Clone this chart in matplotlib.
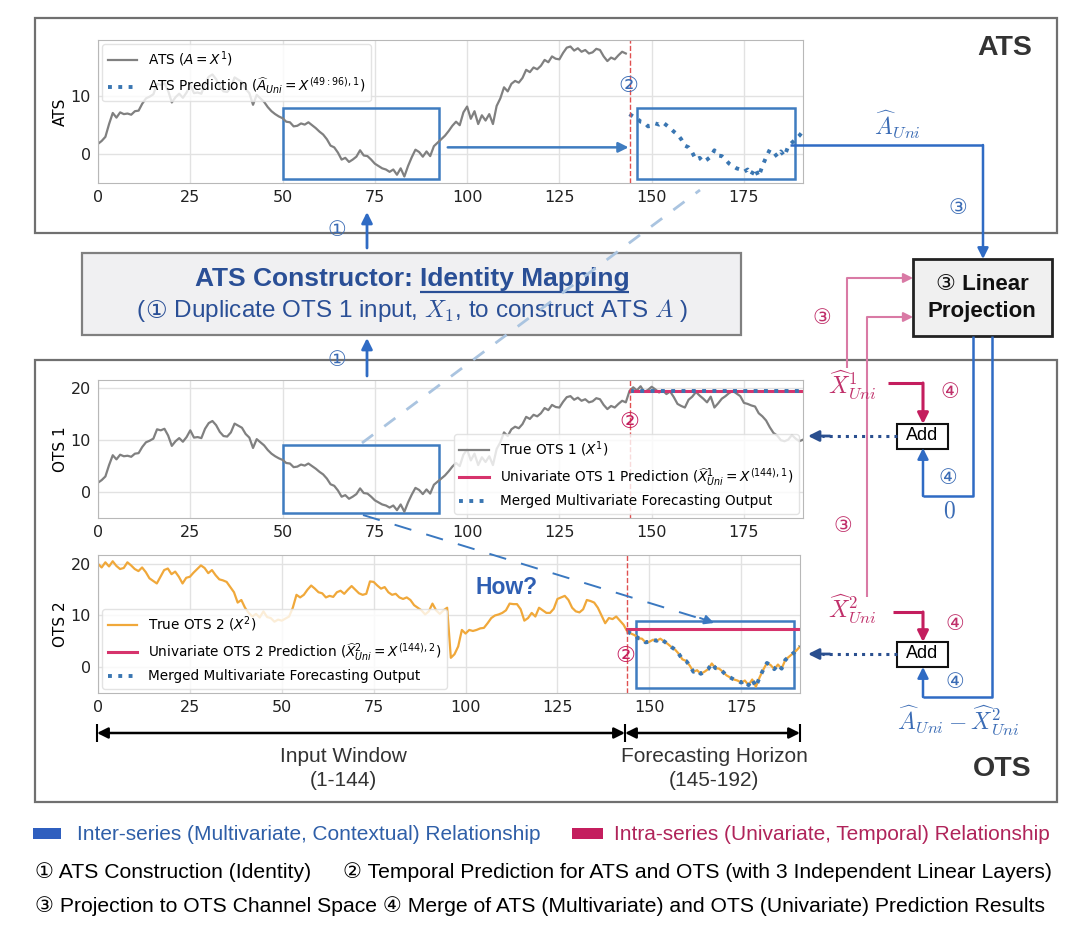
import numpy as np
import matplotlib.pyplot as plt
from matplotlib.patches import Rectangle

plt.rcParams['font.family'] = ['DejaVu Sans']

# ---------------- data ----------------
# OTS 1 (also the source of the ATS), 192 steps
ots1 = [1.8, 2.3, 3.0, 5.2, 7.1, 6.3, 7.2, 6.9, 7.0, 6.8,
        7.4, 7.5, 8.7, 9.6, 9.9, 10.3, 12.1, 11.9, 12.2, 10.9,
        8.9, 9.8, 10.4, 9.7, 10.6, 11.9, 10.5, 10.6, 10.4, 12.2,
        13.3, 13.7, 12.9, 11.6, 10.8, 10.7, 11.5, 13.2, 12.8, 12.4,
        11.2, 10.5, 8.5, 10.2, 9.6, 9.0, 8.1, 7.4, 6.9, 6.5,
        6.2, 5.6, 5.5, 4.8, 4.9, 5.3, 5.1, 5.5, 5.0, 4.5,
        3.9, 3.4, 2.6, 1.5, 1.2, 0.3, -0.9, -0.6, -1.3, -0.9,
        -0.4, 0.7, -0.2, -0.3, -0.9, -1.6, -2.0, -2.4, -2.6, -3.0,
        -2.6, -3.5, -2.4, -3.8, -2.0, -0.5, 0.8, 0.4, -0.4, 0.5,
        -0.3, 1.4, 2.0, 2.6, 3.2, 4.0, 4.9, 5.6, 5.0, 7.2,
        8.2, 6.1, 7.4, 5.2, 6.7, 5.8, 6.9, 5.2, 8.3, 9.6,
        11.5, 10.8, 12.1, 12.6, 12.3, 13.1, 14.5, 14.1, 14.9, 14.6,
        15.2, 16.2, 15.8, 16.8, 16.4, 16.3, 17.4, 18.3, 18.5, 17.8,
        18.2, 17.6, 17.9, 17.3, 17.5, 18.1, 17.9, 16.8, 16.0, 16.6,
        16.3, 17.0, 17.6, 17.3, 19.5, 20.2, 19.6, 20.4, 19.3, 19.7,
        20.3, 19.8, 19.2, 19.6, 18.9, 19.4, 18.3, 17.0, 16.6, 16.3,
        17.8, 18.4, 19.3, 18.6, 18.0, 17.3, 18.4, 16.3, 17.1, 18.0,
        18.5, 19.1, 19.5, 19.0, 18.5, 17.2, 17.0, 16.7, 16.5, 15.2,
        14.6, 13.8, 12.5, 11.4, 10.9, 10.0, 9.8, 10.1, 11.0, 10.3,
        9.8, 10.1]

# OTS 2 input window (1-144)
ots2_in = [20.0, 19.3, 20.3, 19.5, 20.5, 19.6, 19.0, 19.2, 20.3, 19.7,
           19.0, 18.6, 19.3, 18.4, 17.2, 16.7, 16.2, 17.5, 18.8, 19.1,
           18.0, 18.5, 17.5, 16.2, 17.3, 17.5, 18.3, 19.0, 19.7, 19.2,
           18.2, 18.8, 17.8, 17.0, 16.8, 16.5, 15.5, 14.5, 12.5, 13.0,
           11.5, 10.5, 9.8, 10.3, 9.6, 10.8, 9.7, 9.5, 8.8, 9.2,
           9.0, 9.4, 9.8, 11.5, 14.0, 13.5, 14.0, 15.0, 15.8, 15.2,
           14.5, 14.3, 13.5, 13.8, 13.6, 14.5, 14.8, 14.2, 15.0, 15.7,
           15.0, 14.3, 14.0, 14.2, 16.6, 16.5, 15.8, 15.2, 15.5, 14.5,
           14.0, 14.2, 13.5, 13.2, 13.5, 13.0, 12.0, 11.5, 11.0, 10.2,
           10.8, 12.3, 11.0, 10.3, 11.0, 11.5, 1.8, 2.5, 4.0, 7.2,
           6.5, 7.2, 7.0, 7.2, 7.5, 7.6, 8.5, 9.5, 10.0, 10.2,
           10.5, 11.0, 12.3, 12.2, 12.2, 11.2, 9.0, 9.5, 10.5, 9.8,
           11.5, 11.0, 10.5, 10.5, 11.3, 13.2, 13.5, 13.8, 13.0, 11.5,
           10.8, 10.6, 11.2, 13.0, 12.8, 12.5, 11.5, 10.0, 8.5, 9.5,
           9.3, 9.8, 9.0, 8.2]

uni_ots1 = 19.4        # X^(144),1
uni_ots2 = 7.3         # X^(144),2
n_in = 144
ats_src = (48, 96)     # X^(49:96),1

ats = ots1[:n_in]
ats_pred = ots1[ats_src[0]:ats_src[1]]
ots2 = ots2_in + ats_pred          # true OTS 2 horizon follows the same shape
t_in = np.arange(n_in)
t_out = np.arange(n_in, len(ots1))

GRAY = '#808080'
ORANGE = '#f0a83a'
PINK = '#d6336c'
DOT = '#3a76b2'
BOXB = '#3f7cc0'
ARB = '#2f6bc4'
LBLUE = '#3b6cb5'
NAVY = '#2a4f96'
PLINE = '#d97aa5'
PDARK = '#c41e5e'
PLBL = '#c0306a'
DIAG = ['Liberation Sans', 'DejaVu Sans']

W, H = 1080, 936
fig = plt.figure(figsize=(W / 100, H / 100), dpi=100)


def ax_at(l, t, r, b):
    return fig.add_axes([l / W, 1 - b / H, (r - l) / W, (b - t) / H])


def style(ax, yt, ylab):
    ax.set_xlim(0, len(ots1) - 1)
    ax.set_xticks(range(0, 176, 25))
    ax.set_yticks(yt)
    ax.grid(True, color='#e2e2e2', lw=1)
    ax.set_axisbelow(True)
    for s in ax.spines.values():
        s.set_color('#b8b8b8')
    ax.tick_params(length=0, labelsize=11.5, pad=5, colors='#222222')
    ax.set_ylabel(ylab, fontsize=11, labelpad=2)
    ax.axvline(n_in, color='#e05050', lw=1, ls='--')


LEG = dict(fontsize=9.8, framealpha=0.8, edgecolor='#dddddd', handlelength=2.2,
           borderaxespad=0.3)

# ---------------- ATS panel ----------------
ax0 = ax_at(98, 40, 803, 183)
ax0.plot(t_in, ats, color=GRAY, lw=1.6, label=r'ATS ($A = X^1$)')
ax0.plot(t_out, ats_pred, color=DOT, lw=2.8, ls=':',
         label=r'ATS Prediction ($\widehat{A}_{Uni} = X^{(49:96),1}$)')
style(ax0, [0, 10], 'ATS')
ax0.legend(loc='upper left', **LEG)
ax0.add_patch(Rectangle((50, -4.2), 42.5, 12.1, fill=False, ec=BOXB, lw=1.8))
ax0.add_patch(Rectangle((146, -4.2), 42.7, 12.1, fill=False, ec=BOXB, lw=1.8))
ax0.annotate('', xy=(144.5, 1.2), xytext=(94, 1.2),
             arrowprops=dict(arrowstyle='-|>', color=BOXB, lw=1.8, mutation_scale=15))

# ---------------- OTS 1 panel ----------------
ax1 = ax_at(98, 380, 803, 518)
ax1.plot(np.arange(len(ots1)), ots1, color=GRAY, lw=1.6, label=r'True OTS 1 ($X^1$)')
ax1.plot(t_out, [uni_ots1] * len(t_out), color=PINK, lw=2.2,
         label=r'Univariate OTS 1 Prediction ($\widehat{X}^1_{Uni} = X^{(144),1}$)')
ax1.plot(t_out, [uni_ots1] * len(t_out), color=DOT, lw=2.8, ls=':',
         label='Merged Multivariate Forecasting Output')
style(ax1, [0, 10, 20], 'OTS 1')
ax1.legend(loc='lower right', **LEG)
ax1.add_patch(Rectangle((50, -4.0), 42.4, 13.0, fill=False, ec=BOXB, lw=1.8))

# ---------------- OTS 2 panel ----------------
ax2 = ax_at(98, 555, 800, 693)
ax2.plot(np.arange(len(ots2)), ots2, color=ORANGE, lw=1.6, label=r'True OTS 2 ($X^2$)')
ax2.plot(t_out, [uni_ots2] * len(t_out), color=PINK, lw=2.2,
         label=r'Univariate OTS 2 Prediction ($\widehat{X}^2_{Uni} = X^{(144),2}$)')
ax2.plot(t_out, ats_pred, color=DOT, lw=2.8, ls=':',
         label='Merged Multivariate Forecasting Output')
style(ax2, [0, 10, 20], 'OTS 2')
ax2.legend(loc='lower left', **LEG)
ax2.add_patch(Rectangle((146.3, -4.1), 43.2, 13.1, fill=False, ec=BOXB, lw=1.8))

# ---------------- overlay in pixel coords ----------------
ov = fig.add_axes([0, 0, 1, 1])
ov.set_xlim(0, W)
ov.set_ylim(H, 0)
ov.axis('off')
ov.set_zorder(10)
ov.patch.set_alpha(0)
fig.canvas.draw()
rend = fig.canvas.get_renderer()


def arrow(p0, p1, color, lw=1.8, ms=16, zorder=5):
    ov.annotate('', xy=p1, xytext=p0,
                arrowprops=dict(arrowstyle='-|>', color=color, lw=lw,
                                mutation_scale=ms, shrinkA=0, shrinkB=0),
                zorder=zorder)


def poly(xs, ys, color, lw=1.8):
    ov.plot(xs, ys, color=color, lw=lw, solid_capstyle='butt')


def txt(x, y, s, **kw):
    kw.setdefault('family', DIAG)
    kw.setdefault('ha', 'center')
    kw.setdefault('va', 'center')
    return ov.text(x, y, s, **kw)


def row(pieces, xc, y, **kw):
    # several texts side by side, centred on xc; returns their left x and widths
    ts = [txt(0, y, s, ha='left', **dict(kw, **extra)) for s, extra in pieces]
    ws = [t.get_window_extent(rend).width for t in ts]
    x = xc - sum(ws) / 2
    out = []
    for t, w in zip(ts, ws):
        t.set_x(x)
        out.append((x, w))
        x += w
    return out


# outer boxes
ov.add_patch(Rectangle((35, 18), 1022, 215, fill=False, ec='#707070', lw=1.6))
ov.add_patch(Rectangle((35, 360), 1022, 442, fill=False, ec='#707070', lw=1.6))
txt(1005, 48, 'ATS', fontsize=20.5, fontweight='bold', color='#333333')
txt(1002, 769, 'OTS', fontsize=20.5, fontweight='bold', color='#333333')

# constructor box
ov.add_patch(Rectangle((82, 253), 659, 82, fc='#f0f0f2', ec='#808080', lw=1.6, zorder=2))
pos = row([('ATS Constructor: ', {}), ('Identity Mapping', {})], 412, 279,
          fontsize=19, fontweight='bold', color=NAVY, zorder=3)
poly([pos[1][0], pos[1][0] + pos[1][1]], [292, 292], NAVY, lw=1.6)
row([('(', {}), ('\u2460', {'family': ['DejaVu Sans']}),
     (' Duplicate OTS 1 input, $X_1$, to construct ATS $A$ )', {'math_fontfamily': 'cm'})],
    412, 311, fontsize=17.5, color=NAVY, zorder=3)

# (1) arrows
arrow((367, 248), (367, 212), ARB, lw=2)
arrow((367, 376), (367, 338), ARB, lw=2)
txt(337, 231, '\u2460', fontsize=15, color=LBLUE)
txt(337, 360, '\u2460', fontsize=15, color=LBLUE)

# light dashed link OTS1 window -> ATS
ov.plot([362, 700], [443, 190], color='#aac4e0', lw=2, ls=(0, (5, 5)), zorder=4)
# "How?" dashed link
ov.plot([363, 705], [515, 620], color='#3a78c0', lw=1.4, ls=(0, (9, 8)), zorder=4)
arrow((700, 618), (714, 623), '#3a78c0', lw=1.4, ms=14)
txt(507, 588, 'How?', fontsize=16.5, fontweight='bold', color='#2f5fb3')

# circled 2
txt(628, 87, '\u2461', fontsize=16, color=LBLUE)
txt(629, 423, '\u2461', fontsize=16, color=PDARK)
txt(625, 657, '\u2461', fontsize=16, color=PDARK)

# timeline arrows
for xa, xb in [(97, 625), (625, 800)]:
    ov.annotate('', xy=(xa, 733), xytext=(xb, 733),
                arrowprops=dict(arrowstyle='<|-|>', color='black', lw=1.8,
                                mutation_scale=16, shrinkA=0, shrinkB=0))
for xv in [97, 625, 800]:
    poly([xv, xv], [724, 742], 'black', lw=1.5)
txt(343, 756, 'Input Window', fontsize=15, color='#333333')
txt(343, 780, '(1-144)', fontsize=15, color='#333333')
txt(714, 756, 'Forecasting Horizon', fontsize=15, color='#333333')
txt(714, 780, '(145-192)', fontsize=15, color='#333333')

# linear projection box
ov.add_patch(Rectangle((913, 259), 139, 77, fc='#f0f0f0', ec='#222222', lw=2, zorder=2))
row([('\u2462', {'family': ['DejaVu Sans'], 'fontweight': 'normal'}), (' Linear', {})],
    982, 284, fontsize=16, fontweight='bold', color='#111111', zorder=3)
txt(982, 312, 'Projection', fontsize=16, fontweight='bold', color='#111111', zorder=3)

# A_uni path into projection
poly([790, 983], [145, 145], ARB)
arrow((983, 145), (983, 259), ARB, lw=1.8)
txt(897, 124, r'$\widehat{A}_{Uni}$', fontsize=17, color=LBLUE, math_fontfamily='cm')
txt(958, 208, '\u2462', fontsize=15, color=LBLUE)

# pink paths into projection
poly([847, 847], [368, 278], PLINE, lw=1.5)
arrow((847, 278), (913, 278), PLINE, lw=1.5, ms=14)
poly([867, 867], [597, 317], PLINE, lw=1.5)
arrow((867, 317), (913, 317), PLINE, lw=1.5, ms=14)
txt(822, 318, '\u2462', fontsize=15, color=PLBL)
txt(843, 527, '\u2462', fontsize=15, color=PLBL)

# X_uni labels and their arrows into Add
txt(852, 385, r'$\widehat{X}^1_{Uni}$', fontsize=17, color=PLBL, math_fontfamily='cm')
txt(852, 609, r'$\widehat{X}^2_{Uni}$', fontsize=17, color=PLBL, math_fontfamily='cm')
poly([888, 923], [383, 383], PDARK, lw=2.2)
arrow((923, 383), (923, 424), PDARK, lw=2.2)
poly([893, 923], [612, 612], PDARK, lw=2.2)
arrow((923, 612), (923, 642), PDARK, lw=2.2)
txt(950, 393, '\u2463', fontsize=15, color=PLBL)
txt(955, 624, '\u2463', fontsize=15, color=PLBL)

# blue outputs of projection into Add
poly([973, 973, 923], [336, 496, 496], ARB)
arrow((923, 496), (923, 448), ARB, lw=1.8)
txt(948, 479, '\u2463', fontsize=15, color=LBLUE)
txt(949, 512, r'$0$', fontsize=17, color=LBLUE, math_fontfamily='cm')
poly([992, 992, 923], [336, 697, 697], ARB)
arrow((923, 697), (923, 667), ARB, lw=1.8)
txt(955, 683, '\u2463', fontsize=15, color=LBLUE)
txt(958, 720, r'$\widehat{A}_{Uni} - \widehat{X}^2_{Uni}$', fontsize=17, color=LBLUE,
    math_fontfamily='cm')

# add boxes and merged-output arrows
for yc in [436, 654]:
    ov.add_patch(Rectangle((897, yc - 12), 51, 25, fc='white', ec='#111111', lw=1.5, zorder=3))
    txt(922, yc, 'Add', fontsize=13, color='black', zorder=4)
    ov.plot([897, 822], [yc, yc], color='#2a4f8f', lw=2.2, ls=':', zorder=4)
    arrow((830, yc), (808, yc), '#2a4f8f', lw=2, ms=16)

# bottom legend and notes
ov.add_patch(Rectangle((33, 828), 28, 11, fc='#2f5fbf', ec='none'))
txt(77, 834, 'Inter-series (Multivariate, Contextual) Relationship', ha='left',
    fontsize=15, color='#2f5fa8')
ov.add_patch(Rectangle((572, 828), 31, 11, fc='#c41e5e', ec='none'))
txt(614, 834, 'Intra-series (Univariate, Temporal) Relationship', ha='left',
    fontsize=15, color='#b0245a')
txt(35, 872, '\u2460 ATS Construction (Identity)', ha='left', fontsize=15.2, color='black')
txt(343, 872, '\u2461 Temporal Prediction for ATS and OTS (with 3 Independent Linear Layers)',
    ha='left', fontsize=15.2, color='black')
txt(35, 906, '\u2462 Projection to OTS Channel Space \u2463 Merge of ATS (Multivariate) '
    'and OTS (Univariate) Prediction Results', ha='left', fontsize=15.2, color='black')

fig.savefig('out.png', dpi=100)
